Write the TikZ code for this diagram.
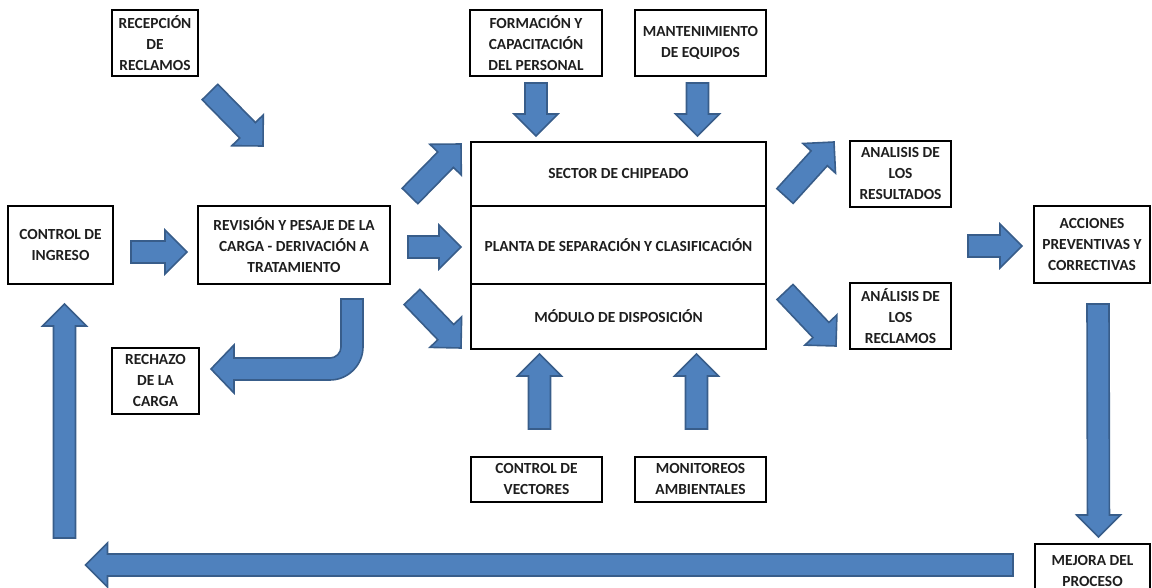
\documentclass[tikz,border=0pt]{standalone}
\usepackage{fontspec}
\setmainfont{Carlito}
\usetikzlibrary{positioning,calc}
\definecolor{azul}{HTML}{4F81BD}
\definecolor{azulosc}{HTML}{385D8A}
\definecolor{tinta}{HTML}{1E1E1E}

\newcommand{\flechabloque}[2]{%
  \coordinate (fa) at #1;
  \coordinate (fb) at #2;
  \coordinate (fh) at ($(fb)!11pt!(fa)$);
  \draw[flecha] ($(fa)!5.5pt!90:(fb)$) -- ($(fh)!5.5pt!90:(fb)$) -- ($(fh)!11pt!90:(fb)$) -- (fb)
    -- ($(fh)!11pt!-90:(fb)$) -- ($(fh)!5.5pt!-90:(fb)$) -- ($(fa)!5.5pt!-90:(fb)$) -- cycle;}

\begin{document}
\begin{tikzpicture}[x=0.5pt,y=-0.5pt,
    every node/.style={font=\fontsize{7.7}{10.5}\selectfont\bfseries,text=tinta},
    caja/.style={draw,line width=1pt,align=center,inner sep=0pt},
    flecha/.style={draw=azulosc,fill=azul,line width=0.8pt,line join=miter}]
  \useasboundingbox (0,0) rectangle (1152,588);
  % cajas
  \node[caja,minimum width=43pt,minimum height=33pt] (recepcion) at (155,43) {RECEPCIÓN\\DE\\RECLAMOS};
  \node[caja,minimum width=66pt,minimum height=33pt] (formacion) at (536,43) {FORMACIÓN Y\\CAPACITACIÓN\\DEL PERSONAL};
  \node[caja,minimum width=65.5pt,minimum height=33pt] (mantenimiento) at (700.5,43) {MANTENIMIENTO\\DE EQUIPOS};
  \node[caja,minimum width=52.5pt,minimum height=39pt] (ingreso) at (60.5,245) {CONTROL DE\\INGRESO};
  \node[caja,minimum width=96pt,minimum height=39pt] (revision) at (294,245) {REVISIÓN Y PESAJE DE LA\\CARGA - DERIVACIÓN A\\TRATAMIENTO};
  \node[caja,minimum width=147.5pt,minimum height=32pt] (chipeado) at (618.5,174) {SECTOR DE CHIPEADO};
  \node[caja,minimum width=147.5pt,minimum height=39pt] (planta) at (618.5,245) {PLANTA DE SEPARACIÓN Y CLASIFICACIÓN};
  \node[caja,minimum width=147.5pt,minimum height=32.5pt] (modulo) at (618.5,316.5) {MÓDULO DE DISPOSICIÓN};
  \node[caja,minimum width=43.5pt,minimum height=33pt] (rechazo) at (155.5,381) {RECHAZO\\DE LA\\CARGA};
  \node[caja,minimum width=50.5pt,minimum height=33pt] (resultados) at (900.5,174) {ANALISIS DE\\LOS\\RESULTADOS};
  \node[caja,minimum width=50.5pt,minimum height=33pt] (analreclamos) at (900.5,316) {ANÁLISIS DE\\LOS\\RECLAMOS};
  \node[caja,minimum width=58pt,minimum height=38.5pt] (acciones) at (1092,244.5) {ACCIONES\\PREVENTIVAS Y\\CORRECTIVAS};
  \node[caja,minimum width=65.5pt,minimum height=22.5pt] (vectores) at (536.5,479.5) {CONTROL DE\\VECTORES};
  \node[caja,minimum width=65.5pt,minimum height=22.5pt] (monitoreos) at (700.5,479.5) {MONITOREOS\\AMBIENTALES};
  \node[caja,minimum width=57.5pt,minimum height=27pt] (mejora) at (1092.5,571) {MEJORA DEL\\PROCESO};
  % flechas
  \flechabloque{($(ingreso.east)+(17,7)$)}{($(revision.west)+(-10,7)$)}
  \flechabloque{($(revision.east)+(17,2)$)}{($(planta.west)+(-9,2)$)}
  \flechabloque{($(revision.north east)+(19,-9)$)}{($(chipeado.north west)+(-9,3)$)}
  \flechabloque{($(revision.south east)+(21,12)$)}{($(modulo.south west)+(-9,-2)$)}
  \flechabloque{($(recepcion.south east)+(11,15)$)}{($(revision.north)+(-31,-59)$)}
  \flechabloque{($(formacion.south)+(0,6)$)}{($(formacion.south |- chipeado.north)+(0,-5)$)}
  \flechabloque{($(mantenimiento.south)+(-3,6)$)}{($(mantenimiento.south |- chipeado.north)+(-3,-5)$)}
  \flechabloque{($(vectores.north)+(3,-27)$)}{($(vectores.north |- modulo.south)+(3,4)$)}
  \flechabloque{($(monitoreos.north)+(-4,-27)$)}{($(monitoreos.north |- modulo.south)+(-4,4)$)}
  \flechabloque{($(chipeado.south east)+(18,-11)$)}{($(resultados.north west)+(-15,2)$)}
  \flechabloque{($(modulo.north east)+(18,9)$)}{($(analreclamos.south west)+(-13,-4)$)}
  \flechabloque{($(resultados.east |- acciones.west)+(16,1.5)$)}{($(acciones.west)+(-11,1.5)$)}
  \flechabloque{($(acciones.south)+(6,20)$)}{($(mejora.north)+(6,-6)$)}
  \flechabloque{($(mejora.west)+(-21,-6)$)}{($(ingreso.south |- mejora.west)+(25,-6)$)}
  \flechabloque{($(ingreso.south)+(4,253)$)}{($(ingreso.south)+(4,19)$)}
  % flecha curva al rechazo
  \coordinate (rtop) at ($(revision.south)+(58,14)$);
  \coordinate (rtip) at ($(rechazo.east)+(11,-12)$);
  \draw[flecha] ($(rtop)+(-11,0)$) -- ($(rtop)+(11,0)$) -- ($(rtop |- rtip)+(11,-22)$)
    .. controls +(0,18) and +(18,0) .. ($(rtop |- rtip)+(-22,11)$)
    -- ($(rtip)+(23,11)$) -- ($(rtip)+(23,24)$) -- (rtip) -- ($(rtip)+(23,-24)$) -- ($(rtip)+(23,-11)$)
    -- ($(rtop |- rtip)+(-22,-11)$) .. controls +(6,0) and +(0,6) .. ($(rtop |- rtip)+(-11,-22)$) -- cycle;
\end{tikzpicture}
\end{document}
